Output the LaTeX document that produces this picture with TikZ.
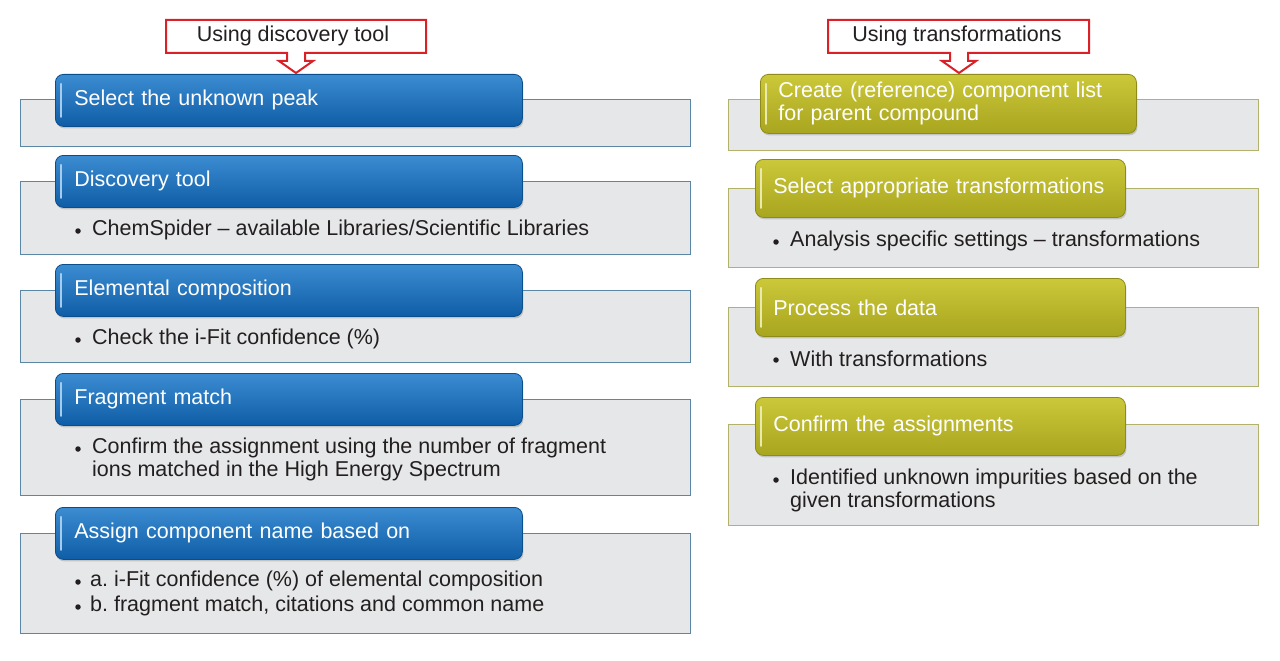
\documentclass[tikz,border=0pt]{standalone}
\usepackage{fontspec}
\setmainfont{Liberation Sans}
\usetikzlibrary{shadows}
\frenchspacing
\definecolor{bluetop}{HTML}{3C8CD2}
\definecolor{bluebot}{HTML}{0E5DA6}
\definecolor{blueedge}{HTML}{0B4E8C}
\definecolor{olivetop}{HTML}{CBC83A}
\definecolor{olivebot}{HTML}{A8A51F}
\definecolor{oliveedge}{HTML}{8E8B1B}
\definecolor{panel}{HTML}{E6E7E8}
\definecolor{panelblue}{HTML}{5B87A7}
\definecolor{panelolive}{HTML}{B3B26A}
\definecolor{callred}{HTML}{DA2128}
\definecolor{txt}{HTML}{231F20}
\tikzset{
  x=1pt, y=-1pt,
  every node/.style={font=\fontsize{21.5}{23}\selectfont\frenchspacing},
  panelL/.style={draw=panelblue, line width=1.2pt, fill=panel, anchor=north west, inner sep=0pt},
  panelR/.style={draw=panelolive, line width=1.2pt, fill=panel, anchor=north west, inner sep=0pt},
  hdrblue/.style={rounded corners=8pt, draw=blueedge, line width=0.8pt, top color=bluetop, bottom color=bluebot,
     drop shadow={shadow xshift=1pt, shadow yshift=-2pt, opacity=0.35},
     anchor=north west, inner xsep=19pt, inner ysep=0pt, align=left, text=white},
  hdrolive/.style={rounded corners=8pt, draw=oliveedge, line width=0.8pt, top color=olivetop, bottom color=olivebot,
     drop shadow={shadow xshift=1pt, shadow yshift=-2pt, opacity=0.35},
     anchor=north west, inner xsep=18pt, inner ysep=0pt, align=left, text=white},
  stripeB/.style={draw=bluetop!45!white, line width=2.5pt, line cap=round},
  stripeO/.style={draw=olivetop!40!white, line width=2.5pt, line cap=round},
  bul/.style={circle, fill=txt, inner sep=0pt, minimum size=5.5pt},
  body/.style={anchor=west, text=txt, inner sep=0pt, align=left},
  callout/.style={draw=callred, line width=2pt, fill=white},
  calltext/.style={text=txt, inner sep=0pt}
}
\begin{document}
\begin{tikzpicture}
\useasboundingbox (0,0) rectangle (1280,661);
\fill[white] (0,0) rectangle (1280,661);

% ---------- left column ----------
\path[callout] (166,20) -- (426,20) -- (426,53) -- (305,53) -- (305,61) -- (313,61) -- (296,73)
   -- (279,61) -- (287,61) -- (287,53) -- (166,53) -- cycle;
\node[calltext] (c1) at (293,36) {Using discovery tool};

\node[panelL, minimum width=670pt, minimum height=47pt] (p1) at (20,99) {};
\node[hdrblue, text width=429pt, minimum height=52pt] (h1) at (55,74) {Select the unknown peak};
\draw[stripeB] ([xshift=6pt,yshift=-10pt]h1.north west) -- ([xshift=6pt,yshift=10pt]h1.south west);

\node[panelL, minimum width=670pt, minimum height=73pt] (p2) at (20,181) {};
\node[hdrblue, text width=429pt, minimum height=52pt] (h2) at (55,155) {Discovery tool};
\draw[stripeB] ([xshift=6pt,yshift=-10pt]h2.north west) -- ([xshift=6pt,yshift=10pt]h2.south west);
\node[bul] (b2) at (78,231) {};
\node[body] (t2) at (92,230) {ChemSpider – available Libraries/Scientific Libraries};

\node[panelL, minimum width=670pt, minimum height=72pt] (p3) at (20,290) {};
\node[hdrblue, text width=429pt, minimum height=52pt] (h3) at (55,264) {Elemental composition};
\draw[stripeB] ([xshift=6pt,yshift=-10pt]h3.north west) -- ([xshift=6pt,yshift=10pt]h3.south west);
\node[bul] (b3) at (78,340) {};
\node[body] (t3) at (92,339) {Check the i-Fit confidence (\%)};

\node[panelL, minimum width=670pt, minimum height=96pt] (p4) at (20,399) {};
\node[hdrblue, text width=429pt, minimum height=52pt] (h4) at (55,373) {Fragment match};
\draw[stripeB] ([xshift=6pt,yshift=-10pt]h4.north west) -- ([xshift=6pt,yshift=10pt]h4.south west);
\node[bul] (b4) at (78,449) {};
\node[body] (t4) at (92,459) {Confirm the assignment using the number of fragment\\ions matched in the High Energy Spectrum};

\node[panelL, minimum width=670pt, minimum height=100pt] (p5) at (20,533) {};
\node[hdrblue, text width=429pt, minimum height=52pt] (h5) at (55,507) {Assign component name based on};
\draw[stripeB] ([xshift=6pt,yshift=-10pt]h5.north west) -- ([xshift=6pt,yshift=10pt]h5.south west);
\node[bul] (b5a) at (78,582) {};
\node[body] (t5a) at (90,581) {a. i-Fit confidence (\%) of elemental composition};
\node[bul] (b5b) at (78,607) {};
\node[body] (t5b) at (90,606) {b. fragment match, citations and common name};

% ---------- right column ----------
\path[callout] (828,20) -- (1089,20) -- (1089,53) -- (968,53) -- (968,61) -- (976,61) -- (959,73)
   -- (942,61) -- (950,61) -- (950,53) -- (828,53) -- cycle;
\node[calltext] (c2) at (957,36) {Using transformations};

\node[panelR, minimum width=530pt, minimum height=51pt] (q1) at (728,99) {};
\node[hdrolive, text width=340pt, minimum height=59pt] (k1) at (760,74) {Create (reference) component list\\for parent compound};
\draw[stripeO] ([xshift=6pt,yshift=-10pt]k1.north west) -- ([xshift=6pt,yshift=10pt]k1.south west);

\node[panelR, minimum width=530pt, minimum height=79pt] (q2) at (728,188) {};
\node[hdrolive, text width=334pt, minimum height=58pt] (k2) at (755,159) {Select appropriate transformations};
\draw[stripeO] ([xshift=6pt,yshift=-10pt]k2.north west) -- ([xshift=6pt,yshift=10pt]k2.south west);
\node[bul] (r2) at (776,242) {};
\node[body] (s2) at (790,241) {Analysis specific settings – transformations};

\node[panelR, minimum width=530pt, minimum height=79pt] (q3) at (728,307) {};
\node[hdrolive, text width=334pt, minimum height=58pt] (k3) at (755,278) {Process the data};
\draw[stripeO] ([xshift=6pt,yshift=-10pt]k3.north west) -- ([xshift=6pt,yshift=10pt]k3.south west);
\node[bul] (r3) at (776,360) {};
\node[body] (s3) at (790,359) {With transformations};

\node[panelR, minimum width=530pt, minimum height=101pt] (q4) at (728,424) {};
\node[hdrolive, text width=334pt, minimum height=58pt] (k4) at (755,397) {Confirm the assignments};
\draw[stripeO] ([xshift=6pt,yshift=-10pt]k4.north west) -- ([xshift=6pt,yshift=10pt]k4.south west);
\node[bul] (r4) at (776,480) {};
\node[body] (s4) at (790,490) {Identified unknown impurities based on the\\given transformations};
\end{tikzpicture}
\end{document}
